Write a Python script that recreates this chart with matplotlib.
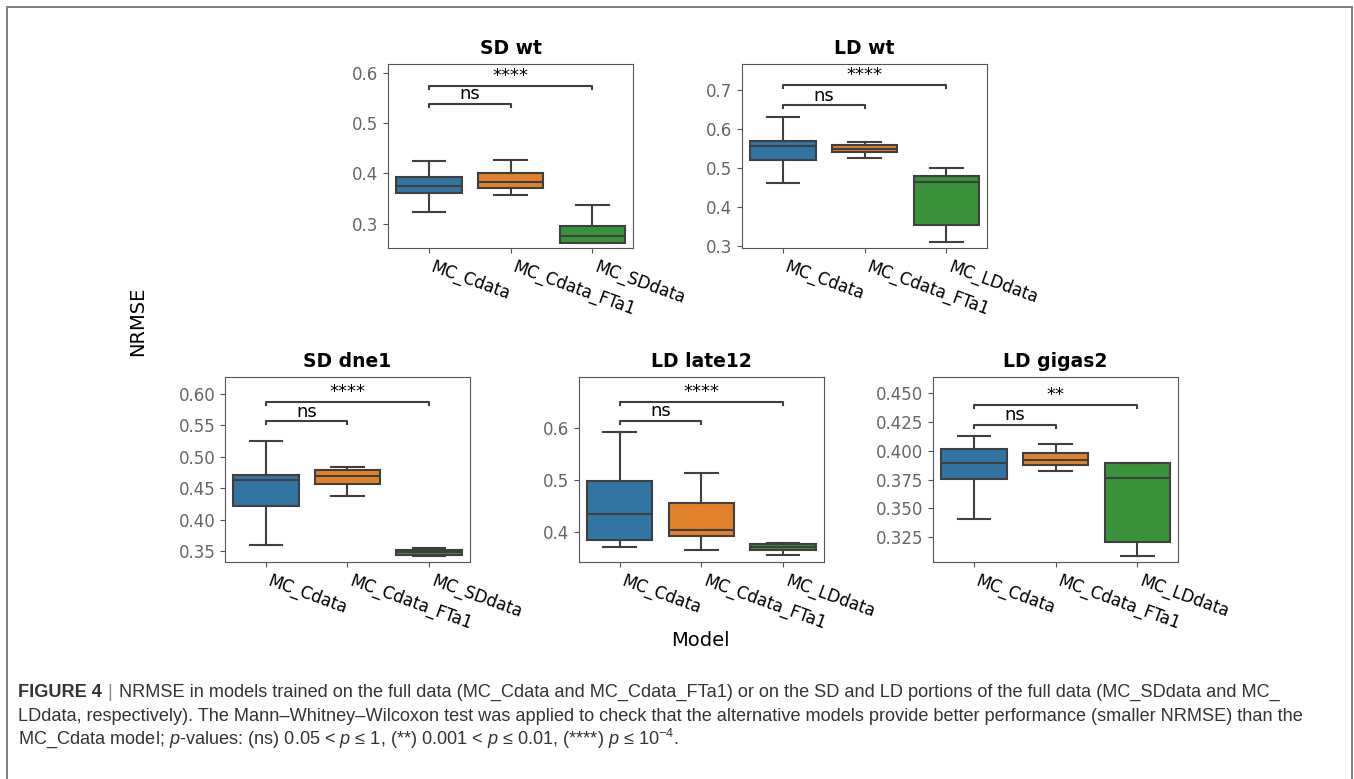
import matplotlib
matplotlib.use('Agg')
import matplotlib.pyplot as plt
from matplotlib.patches import Rectangle

# model names
sd_models = ['MC_Cdata', 'MC_Cdata_FTa1', 'MC_SDdata']
ld_models = ['MC_Cdata', 'MC_Cdata_FTa1', 'MC_LDdata']

# box summaries per model: (low whisker, q1, median, q3, high whisker)
sd_wt = [(0.323, 0.361, 0.374, 0.3925, 0.4255),
         (0.357, 0.372, 0.382, 0.400, 0.426),
         (0.261, 0.262, 0.276, 0.295, 0.338)]
ld_wt = [(0.4615, 0.5214, 0.557, 0.570, 0.6308),
         (0.5265, 0.541, 0.5487, 0.558, 0.5675),
         (0.3103, 0.3547, 0.465, 0.4795, 0.4991)]
sd_dne1 = [(0.3595, 0.4215, 0.4633, 0.4718, 0.5253),
           (0.4379, 0.4575, 0.4703, 0.4792, 0.4835),
           (0.3421, 0.3442, 0.349, 0.3527, 0.3553)]
ld_late12 = [(0.3705, 0.3846, 0.434, 0.498, 0.593),
             (0.3654, 0.3917, 0.4032, 0.4564, 0.5135),
             (0.3551, 0.3647, 0.3712, 0.3763, 0.3782)]
ld_gigas2 = [(0.3412, 0.3752, 0.3895, 0.4018, 0.4130),
             (0.3827, 0.3876, 0.3922, 0.398, 0.4055),
             (0.3091, 0.3209, 0.376, 0.3894, 0.3897)]

# significance annotations (vs MC_Cdata): labels and bracket heights
sd_wt_sig, sd_wt_lvl = ['ns', '****'], [0.5385, 0.574]
ld_wt_sig, ld_wt_lvl = ['ns', '****'], [0.660, 0.7128]
sd_dne1_sig, sd_dne1_lvl = ['ns', '****'], [0.5566, 0.5878]
ld_late12_sig, ld_late12_lvl = ['ns', '****'], [0.6141, 0.652]
ld_gigas2_sig, ld_gigas2_lvl = ['ns', '**'], [0.4226, 0.4396]

box_colors = ['#3274a1', '#e1812c', '#3a923a']
line_c = '#3f3f3f'

W, H = 1354, 779
fig = plt.figure(figsize=(W / 100, H / 100), dpi=100)


def draw_panel(rect, title, models, summ, sig, lvl, ylim, yticks, fmt):
    ax = fig.add_axes(rect)
    stats = []
    for name, (lo, q1, med, q3, hi) in zip(models, summ):
        stats.append(dict(label=name, whislo=lo, q1=q1, med=med, q3=q3,
                          whishi=hi, fliers=[]))
    lp = dict(color=line_c, linewidth=1.5)
    bp = ax.bxp(stats, positions=range(len(models)), widths=0.8,
                patch_artist=True, showfliers=False,
                boxprops=dict(edgecolor=line_c, linewidth=1.5),
                whiskerprops=lp, capprops=lp, medianprops=lp)
    for patch, c in zip(bp['boxes'], box_colors):
        patch.set_facecolor(c)
    ax.set_xlim(-0.5, 2.5)
    ax.set_ylim(ylim)
    ax.set_yticks(yticks)
    ax.set_yticklabels([fmt.format(t) for t in yticks])
    ax.set_xticks(range(len(models)))
    ax.set_xticklabels(models, rotation=-20, ha='left', fontsize=12)
    ax.tick_params(axis='y', labelcolor='#666666', labelsize=12, color='#555555')
    ax.tick_params(axis='x', color='#555555')
    for s in ax.spines.values():
        s.set_color('#555555')
    ax.set_title(title, fontsize=13.5, fontweight='bold', pad=7)

    # brackets
    rng = ylim[1] - ylim[0]
    for (a, b), lab, y in zip([(0, 1), (0, 2)], sig, lvl):
        h = 0.016 * rng
        ax.plot([a, a, b, b], [y - h, y, y, y - h], color=line_c, lw=1.5)
        ax.text((a + b) / 2, y + 0.004 * rng, lab, ha='center', va='bottom',
                fontsize=13)
    return ax


def rect(left, top, right, bottom):
    return [left / W, 1 - bottom / H, (right - left) / W, (bottom - top) / H]


draw_panel(rect(388, 64, 633, 248), 'SD wt', sd_models, sd_wt, sd_wt_sig, sd_wt_lvl,
           (0.252, 0.617), [0.3, 0.4, 0.5, 0.6], '{:.1f}')
draw_panel(rect(742, 64, 987, 248), 'LD wt', ld_models, ld_wt, ld_wt_sig, ld_wt_lvl,
           (0.295, 0.766), [0.3, 0.4, 0.5, 0.6, 0.7], '{:.1f}')
draw_panel(rect(225, 377, 470, 562), 'SD dne1', sd_models, sd_dne1, sd_dne1_sig, sd_dne1_lvl,
           (0.333, 0.627), [0.35, 0.40, 0.45, 0.50, 0.55, 0.60], '{:.2f}')
draw_panel(rect(579, 377, 824, 562), 'LD late12', ld_models, ld_late12, ld_late12_sig,
           ld_late12_lvl, (0.3423, 0.6994), [0.4, 0.5, 0.6], '{:.1f}')
draw_panel(rect(933, 377, 1178, 562), 'LD gigas2', ld_models, ld_gigas2, ld_gigas2_sig,
           ld_gigas2_lvl, (0.3036, 0.4639),
           [0.325, 0.350, 0.375, 0.400, 0.425, 0.450], '{:.3f}')

fig.text(138 / W, 1 - 321 / H, 'NRMSE', rotation=90, ha='center', va='center', fontsize=14)
fig.text(700 / W, 1 - 641 / H, 'Model', ha='center', va='center', fontsize=14)

# frame around the figure
fig.patches.append(Rectangle((7 / W, -0.05), (1352 - 7) / W, 1.05 - 7 / H,
                             transform=fig.transFigure, fill=False,
                             edgecolor='#7f7f7f', linewidth=1.4))

# caption
plt.rcParams['mathtext.fontset'] = 'custom'
plt.rcParams['mathtext.rm'] = 'Liberation Sans'
plt.rcParams['mathtext.it'] = 'Liberation Sans:italic'
cap_font = ['Liberation Sans', 'DejaVu Sans']
cap_size = 13.1
renderer = fig.canvas.get_renderer()


def put(x, ybase, s, color='#333333', **kw):
    t = fig.text(x / W, 1 - ybase / H, s, ha='left', va='baseline',
                 fontsize=cap_size, family=cap_font, color=color, **kw)
    bb = t.get_window_extent(renderer)
    return x + bb.width


x = put(18, 697, 'FIGURE 4', fontweight='bold')
x = put(x + 6, 697, '|', color='#888888')
put(x + 6, 697, 'NRMSE in models trained on the full data (MC_Cdata and MC_Cdata_FTa1) '
    'or on the SD and LD portions of the full data (MC_SDdata and MC_')
put(18, 721, 'LDdata, respectively). The Mann\u2013Whitney\u2013Wilcoxon test was applied to '
    'check that the alternative models provide better performance (smaller NRMSE) than the')
put(18, 744, 'MC_Cdata model; $p$-values: (ns) 0.05 < $p$ \u2264 1, (**) 0.001 < $p$ \u2264 0.01, '
    '(****) $p$ \u2264 $10^{\u22124}$.')

fig.savefig('out.png', dpi=100)
